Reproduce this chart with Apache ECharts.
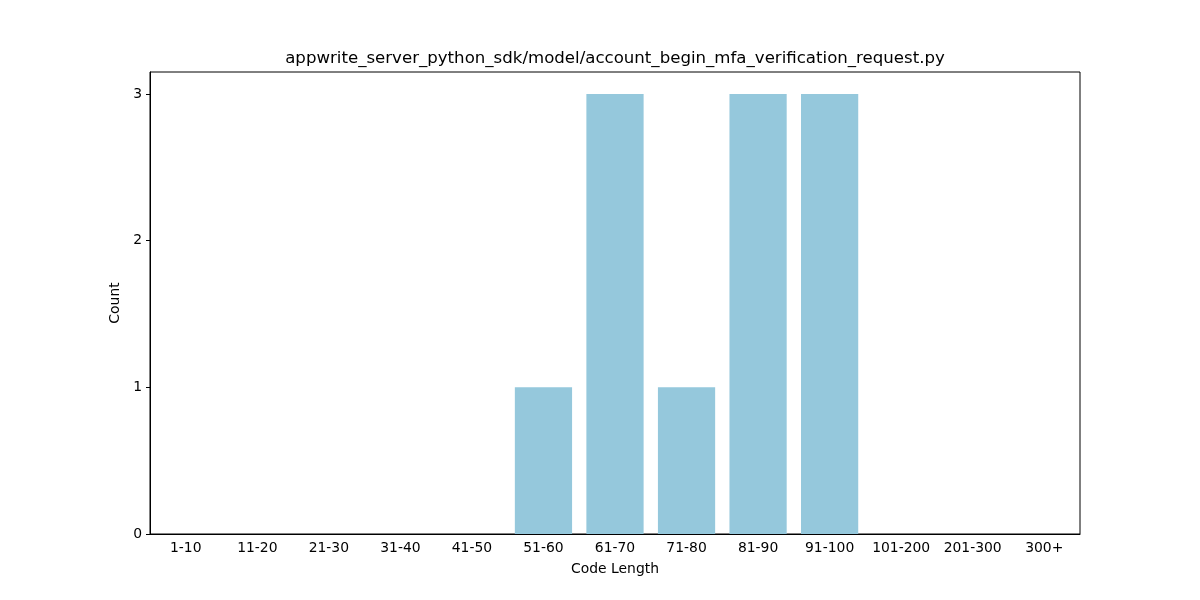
<!DOCTYPE html>
<html>
<head>
<meta charset="utf-8">
<script src="https://cdn.jsdelivr.net/npm/echarts@6/dist/echarts.min.js"></script>
<style>
  html, body { margin: 0; padding: 0; background: #fff; }
  #chart { width: 1200px; height: 600px; }
</style>
</head>
<body>
<div id="chart"></div>
<script>
var categories = ['1-10', '11-20', '21-30', '31-40', '41-50', '51-60', '61-70',
    '71-80', '81-90', '91-100', '101-200', '201-300', '300+'];
var counts = [0, 0, 0, 0, 0, 1, 3, 1, 3, 3, 0, 0, 0];
var yTicks = [0, 1, 2, 3];

var chart = echarts.init(document.getElementById('chart'));
var font = 'DejaVu Sans';

var option = {
    backgroundColor: '#fff',
    animation: false,
    title: {
        text: 'appwrite_server_python_sdk/model/account_begin_mfa_verification_request.py',
        left: 610,
        top: 45,
        textAlign: 'center',
        textStyle: {
            fontFamily: font,
            fontSize: 16.6,
            fontWeight: 'normal',
            color: '#000'
        }
    },
    grid: {
        left: 150,
        right: 120,
        top: 72,
        bottom: 66,
        show: true,
        borderColor: '#000',
        borderWidth: 1,
        backgroundColor: 'transparent'
    },
    xAxis: {
        type: 'category',
        data: categories,
        name: 'Code Length',
        nameLocation: 'middle',
        nameGap: 28,
        nameTextStyle: { fontFamily: font, fontSize: 13.9, color: '#000' },
        axisLine: { lineStyle: { color: '#000', width: 1 } },
        axisTick: { alignWithLabel: true, length: 4, lineStyle: { color: '#000' } },
        axisLabel: { fontFamily: font, fontSize: 13.9, color: '#000', margin: 7, interval: 0 },
        splitLine: { show: false }
    },
    yAxis: {
        type: 'value',
        min: 0,
        max: 3.15,
        interval: 1,
        name: 'Count',
        nameLocation: 'middle',
        nameGap: 25,
        nameTextStyle: { fontFamily: font, fontSize: 13.9, color: '#000' },
        axisLine: { show: true, lineStyle: { color: '#000', width: 1 } },
        axisTick: { show: true, length: 4, lineStyle: { color: '#000' } },
        axisLabel: {
            fontFamily: font, fontSize: 13.9, color: '#000', margin: 8,
            showMaxLabel: false,
            formatter: function (v) {
                return yTicks.indexOf(v) >= 0 ? String(v) : '';
            }
        },
        splitLine: { show: false }
    },
    series: [{
        type: 'bar',
        data: counts,
        barCategoryGap: '20%',
        itemStyle: { color: '#95c8dc' }
    }]
};

chart.setOption(option);
</script>
</body>
</html>
